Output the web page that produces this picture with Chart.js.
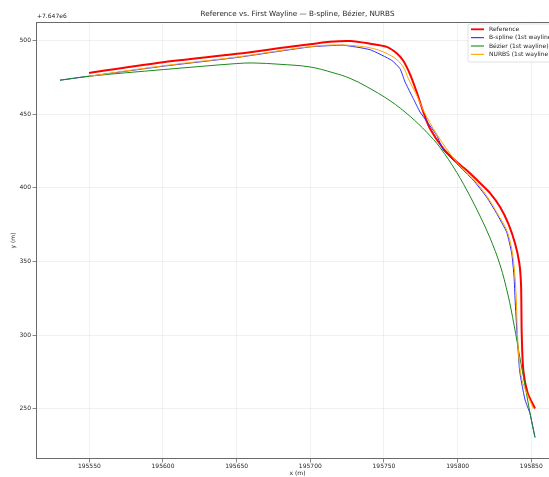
<!DOCTYPE html>
<html>
<head>
<meta charset="utf-8">
<script src="https://cdn.jsdelivr.net/npm/chart.js@4.4.1/dist/chart.umd.min.js"></script>
<style>
  html, body { margin: 0; padding: 0; background: #fff; overflow: hidden; }
  #wrap { position: relative; width: 580px; height: 477px; }
</style>
</head>
<body>
<div id="wrap"><canvas id="c" width="580" height="477"></canvas></div>
<script>
// Northing values are stored relative to this offset (shown as "+7.647e6").
const NORTHING_OFFSET_LABEL = '+7.647e6';

// Reference path
const refEast  = [195549.8, 195600.0, 195650.2, 195686.2, 195699.8, 195713.4, 195727.0, 195740.6, 195751.9, 195758.6,
                  195763.1, 195767.7, 195772.2, 195776.7, 195781.2, 195790.3, 195799.4, 195808.4, 195815.2, 195822.0,
                  195828.8, 195834.4, 195839.0, 195841.9, 195843.0, 195843.3, 195843.5, 195844.6, 195847.5, 195852.5];
const refNorth = [478.0, 485.3, 491.0, 495.8, 497.5, 499.2, 499.7, 497.9, 495.7, 491.4,
                  486.3, 477.1, 465.1, 451.6, 440.3, 426.7, 417.6, 410.0, 403.3, 396.5,
                  387.1, 375.8, 362.2, 348.7, 335.1, 317.0, 301.2, 276.0, 261.0, 250.3];

// B-spline fit of the first wayline
const bsEast  = [195530.1, 195549.8, 195600.2, 195650.0, 195699.8, 195722.4, 195740.5, 195755.2, 195760.9, 195764.3,
                 195769.9, 195774.5, 195785.8, 195790.3, 195799.4, 195810.6, 195819.7, 195826.5, 195833.3, 195836.7,
                 195838.3, 195839.0, 195840.3, 195842.0, 195843.7, 195845.8, 195849.1, 195852.5];
const bsNorth = [473.1, 475.8, 482.6, 488.5, 495.7, 496.8, 493.8, 486.6, 480.9, 471.9,
                 460.6, 451.5, 435.7, 425.6, 416.5, 405.3, 393.7, 382.6, 369.9, 355.7,
                 339.6, 323.8, 301.4, 276.5, 266.1, 256.0, 246.9, 230.7];

// Bézier fit of the first wayline
const bzEast  = [195530.1, 195549.8, 195600.2, 195650.0, 195661.1, 195679.4, 195699.8, 195715.4, 195726.9, 195738.3,
                 195754.1, 195767.7, 195779.0, 195788.0, 195799.4, 195808.4, 195815.2, 195822.0, 195828.8, 195834.2,
                 195838.3, 195842.3, 195845.7, 195849.1, 195852.5];
const bzNorth = [473.1, 475.8, 480.3, 484.4, 484.8, 483.9, 482.1, 478.2, 474.4, 468.7,
                 459.2, 448.6, 437.8, 427.5, 410.5, 394.4, 380.9, 366.0, 347.7, 327.3,
                 306.9, 284.6, 266.2, 247.2, 230.7];

// NURBS fit of the first wayline
const nbEast  = [195549.8, 195600.2, 195650.0, 195699.8, 195722.4, 195742.8, 195756.3, 195763.1, 195766.5, 195772.2,
                 195776.7, 195785.8, 195799.4, 195810.6, 195819.7, 195826.5, 195833.3, 195836.9, 195838.9, 195840.0,
                 195840.5, 195841.7, 195843.7, 195846.9, 195851.4];
const nbNorth = [475.8, 482.9, 488.8, 495.9, 497.0, 494.6, 488.9, 482.1, 474.2, 462.9,
                 452.7, 436.4, 417.4, 406.2, 394.7, 383.5, 371.3, 357.7, 340.1, 320.4,
                 303.4, 283.1, 269.5, 260.7, 250.3];

const xTicks = [195550, 195600, 195650, 195700, 195750, 195800, 195850];
const yTicks = [250, 300, 350, 400, 450, 500];

const seriesLabels = ['Reference', 'B-spline (1st wayline)', 'Bézier (1st wayline)', 'NURBS (1st wayline)'];
const seriesColors = ['#ff0000', '#2b2bff', '#1a8a1a', '#ffa500'];
const seriesWidths = [2, 1, 1, 1];

const FONT = '"DejaVu Sans", "Liberation Sans", sans-serif';
const TEXT = '#1e1e1e';
const SPINE = '#6a6a6a';

function pts(xs, ys) { return xs.map((x, i) => ({ x: x, y: ys[i] })); }

// Title, offset text, axis labels, frame and legend
const decor = {
  id: 'decor',
  afterDraw(chart) {
    const ctx = chart.ctx;
    const a = chart.chartArea;
    ctx.save();
    // frame
    ctx.strokeStyle = SPINE;
    ctx.lineWidth = 1;
    ctx.strokeRect(a.left + 0.5, a.top + 0.5, a.right - a.left - 1, a.bottom - a.top - 1);

    ctx.fillStyle = TEXT;
    ctx.textBaseline = 'middle';
    ctx.textAlign = 'center';
    ctx.font = '7.2px ' + FONT;
    ctx.fillText('Reference vs. First Wayline \u2014 B-spline, B\u00e9zier, NURBS', (a.left + a.right) / 2, 14.5);

    ctx.font = '6px ' + FONT;
    ctx.textAlign = 'left';
    ctx.fillText(NORTHING_OFFSET_LABEL, a.left + 1, 16.5);

    ctx.textAlign = 'center';
    ctx.fillText('x (m)', (a.left + a.right) / 2, 473.5);
    ctx.save();
    ctx.translate(13, (a.top + a.bottom) / 2);
    ctx.rotate(-Math.PI / 2);
    ctx.fillText('y (m)', 0, 0);
    ctx.restore();

    // legend
    const lx = 468, ly = 24, rowH = 8.35;
    let maxW = 0;
    seriesLabels.forEach(s => { maxW = Math.max(maxW, ctx.measureText(s).width); });
    const w = 21 + maxW + 4, h = 38;
    ctx.fillStyle = 'rgba(255,255,255,0.85)';
    ctx.strokeStyle = '#d4d4d4';
    ctx.lineWidth = 0.7;
    ctx.beginPath();
    ctx.roundRect(lx, ly, w, h, 2);
    ctx.fill();
    ctx.stroke();
    ctx.textAlign = 'left';
    seriesLabels.forEach((s, i) => {
      const y = ly + 5.3 + i * rowH;
      ctx.strokeStyle = seriesColors[i];
      ctx.lineWidth = seriesWidths[i] === 2 ? 1.8 : 1.1;
      ctx.beginPath();
      ctx.moveTo(lx + 3, y);
      ctx.lineTo(lx + 16, y);
      ctx.stroke();
      ctx.fillStyle = TEXT;
      ctx.fillText(s, lx + 21, y);
    });
    ctx.restore();
  }
};

const allEast = [refEast, bsEast, bzEast, nbEast];
const allNorth = [refNorth, bsNorth, bzNorth, nbNorth];
const tensions = [0.3, 0.15, 0.35, 0.3];

new Chart(document.getElementById('c'), {
  type: 'scatter',
  data: {
    datasets: seriesLabels.map((lab, i) => ({
      label: lab,
      data: pts(allEast[i], allNorth[i]),
      showLine: true,
      borderColor: seriesColors[i],
      backgroundColor: seriesColors[i],
      borderWidth: seriesWidths[i],
      pointRadius: 0,
      pointHoverRadius: 0,
      fill: false,
      tension: tensions[i],
      order: 4 - i
    }))
  },
  options: {
    responsive: false,
    devicePixelRatio: 1,
    animation: false,
    events: [],
    layout: { autoPadding: false, padding: { top: 22, left: 0, right: 21, bottom: 0 } },
    plugins: { legend: { display: false }, title: { display: false }, tooltip: { enabled: false } },
    scales: {
      x: {
        type: 'linear',
        bounds: 'data',
        min: 195513.8,
        max: 195868.8,
        afterBuildTicks: s => { s.ticks = xTicks.map(v => ({ value: v })); },
        afterFit: s => { s.height = 18; s.paddingLeft = 0; s.paddingRight = 0; },
        grid: { color: 'rgba(0,0,0,0.07)', lineWidth: 0.8, tickLength: 3.5, tickColor: SPINE, tickWidth: 0.8 },
        border: { display: false },
        ticks: { font: { family: FONT, size: 6 }, color: TEXT, padding: 0.5, maxRotation: 0, autoSkip: false,
                 callback: v => String(v) }
      },
      y: {
        type: 'linear',
        bounds: 'data',
        min: 216.0,
        max: 512.6,
        afterBuildTicks: s => { s.ticks = yTicks.map(v => ({ value: v })); },
        afterFit: s => { s.width = 36; s.paddingTop = 0; s.paddingBottom = 0; },
        grid: { color: 'rgba(0,0,0,0.07)', lineWidth: 0.8, tickLength: 3.5, tickColor: SPINE, tickWidth: 0.8 },
        border: { display: false },
        ticks: { font: { family: FONT, size: 6 }, color: TEXT, padding: 1.5, autoSkip: false,
                 callback: v => String(v) }
      }
    }
  },
  plugins: [decor]
});
</script>
</body>
</html>
